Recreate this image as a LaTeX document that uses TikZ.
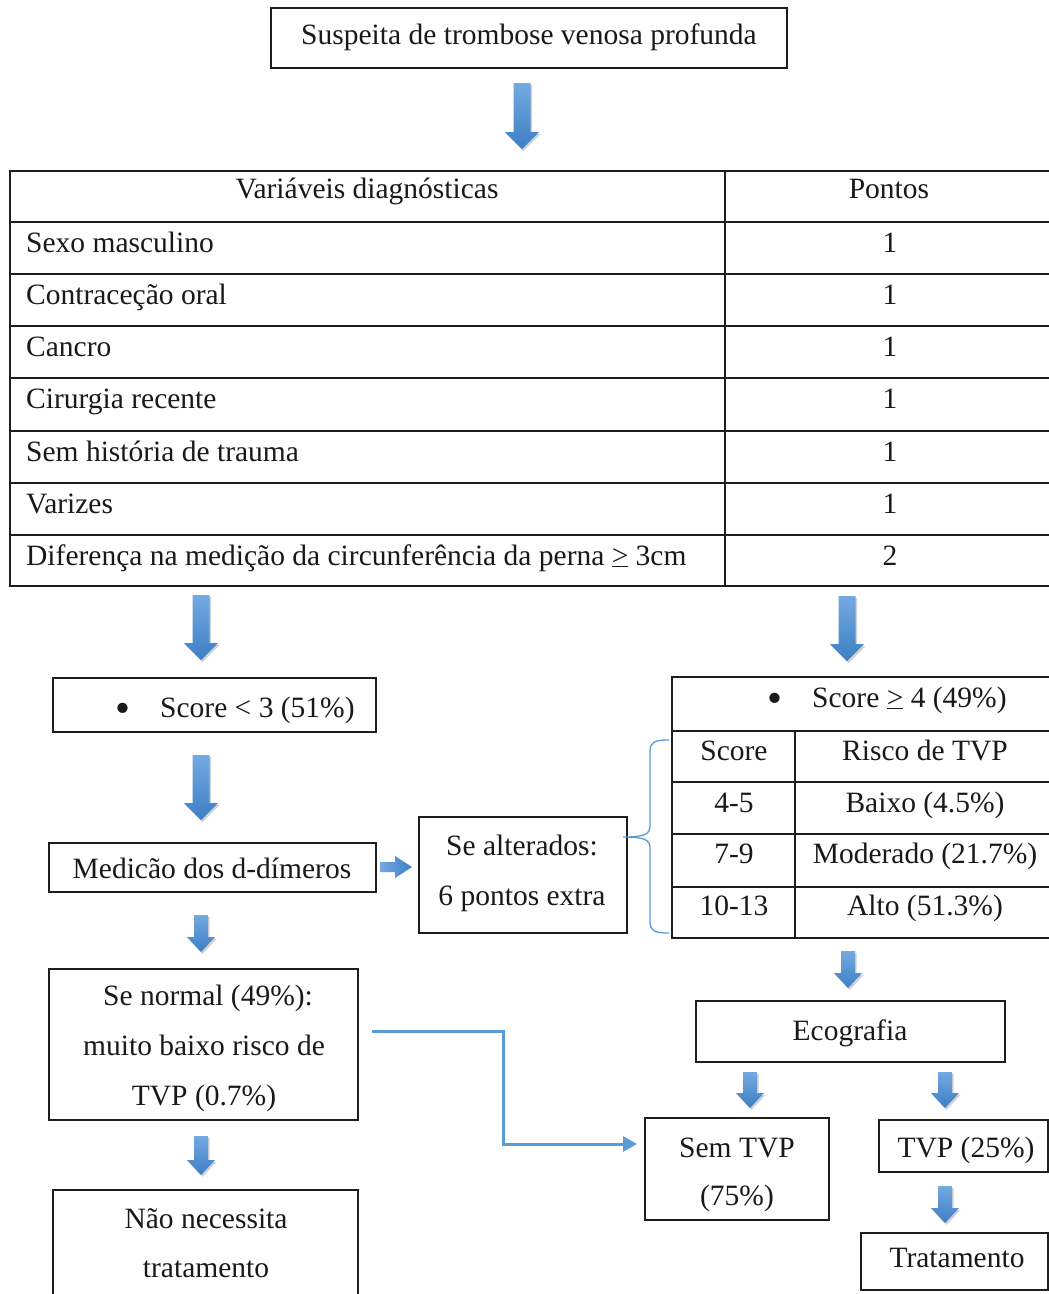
\documentclass[tikz,border=0pt]{standalone}
\usepackage{fontspec}
\setmainfont{Liberation Serif}
\usetikzlibrary{arrows.meta}
\definecolor{lnc}{HTML}{1E1E1E}
\definecolor{blt}{HTML}{74AAE0}
\definecolor{bdk}{HTML}{3D7EC5}
\definecolor{connc}{HTML}{5B9BD5}
\newcommand{\arrdown}[6]{% x, ytop, ytip, shaft, headw, headlen
  \fill[black,opacity=0.18] ({#1-#4/2+1.5},{#2+2}) -- ({#1+#4/2+1.5},{#2+2}) -- ({#1+#4/2+1.5},{#3-#6+2}) -- ({#1+#5/2+1.5},{#3-#6+2}) -- ({#1+1.5},{#3+2}) -- ({#1-#5/2+1.5},{#3-#6+2}) -- ({#1-#4/2+1.5},{#3-#6+2}) -- cycle;
  \shade[top color=blt,bottom color=bdk] ({#1-#4/2},{#2}) -- ({#1+#4/2},{#2}) -- ({#1+#4/2},{#3-#6}) -- ({#1+#5/2},{#3-#6}) -- ({#1},{#3}) -- ({#1-#5/2},{#3-#6}) -- ({#1-#4/2},{#3-#6}) -- cycle;}
\newcommand{\arrright}[6]{% xtail, xtip, y, shaft, headw, headlen
  \shade[left color=blt,right color=bdk] ({#1},{#3-#4/2}) -- ({#2-#6},{#3-#4/2}) -- ({#2-#6},{#3-#5/2}) -- ({#2},{#3}) -- ({#2-#6},{#3+#5/2}) -- ({#2-#6},{#3+#4/2}) -- ({#1},{#3+#4/2}) -- cycle;}
\newcommand{\boxnode}[5]{\node[box, anchor=north west, minimum width={(#4-#2)*1pt}, minimum height={(#5-#3)*1pt}] (#1) at (#2,#3) {};}
\newcommand{\bigbullet}{\scalebox{1.45}{•}}
\tikzset{
  box/.style={draw=lnc, line width=1.7pt, rectangle, inner sep=0pt, outer sep=0pt},
  gridl/.style={draw=lnc, line width=1.7pt},
  txt/.style={inner sep=0pt, text=black!90, font=\fontsize{29.5}{50}\selectfont},
  tc/.style={txt, anchor=base},
  tl/.style={txt, anchor=base west},
  connl/.style={draw=connc, line width=3pt, -{Triangle[length=14pt,width=15pt]}},
  bracel/.style={draw=connc, line width=1.3pt}
}
\begin{document}
\begin{tikzpicture}[x=1pt,y=-1pt]
\useasboundingbox (0,0) rectangle (1049,1294);
\clip (0,0) rectangle (1049,1294);
\fill[white] (0,0) rectangle (1049,1294);

% top box
\boxnode{top}{271}{8}{787}{68}
\node[tc] (ttop) at (529,44) {Suspeita de trombose venosa profunda};
\arrdown{522}{83}{149}{17}{34}{17}

% main table
\boxnode{tbl}{10}{171}{1053}{586}
\foreach \yy in {222,274,326,378,431,483,535} \draw[gridl] (10,\yy) -- (1053,\yy);
\draw[gridl] (725,171) -- (725,586);
\node[tc] (h1) at (367,198) {Variáveis diagnósticas};
\node[tc] (h2) at (889,198) {Pontos};
\node[tl] (r1) at (26,252) {Sexo masculino};
\node[tl] (r2) at (26,304) {Contraceção oral};
\node[tl] (r3) at (26,356) {Cancro};
\node[tl] (r4) at (26,408) {Cirurgia recente};
\node[tl] (r5) at (26,461) {Sem história de trauma};
\node[tl] (r6) at (26,513) {Varizes};
\node[tl] (r7) at (26,565) {Diferença na medição da circunferência da perna \underline{>} 3cm};
\node[tc] (p1) at (890,252) {1};
\node[tc] (p2) at (890,304) {1};
\node[tc] (p3) at (890,356) {1};
\node[tc] (p4) at (890,408) {1};
\node[tc] (p5) at (890,461) {1};
\node[tc] (p6) at (890,513) {1};
\node[tc] (p7) at (890,565) {2};

\arrdown{201}{595}{660}{17}{34}{17}
\arrdown{847}{596}{661}{17}{34}{17}

% left branch
\boxnode{sc3}{53}{678}{376}{732}
\node[tc] (bl1) at (123,722) {\bigbullet};
\node[tl] (tsc3) at (160,717) {Score < 3 (51\%)};
\arrdown{201}{755}{820}{17}{34}{17}
\boxnode{med}{49}{843}{376}{892}
\node[tc] (tmed) at (212,878) {Medicão dos d-dímeros};
\arrright{380}{412}{867}{10}{22}{17}
\boxnode{alt}{419}{817}{627}{933}
\node[tc] (talt1) at (522,855) {Se alterados:};
\node[tc] (talt2) at (522,905) {6 pontos extra};

% brace
\coordinate (brtip) at (623,837);
\draw[bracel] (669,740) .. controls (654,740) and (650,742) .. (650,752) -- (650,826) .. controls (650,834) and (645,837) .. (brtip) .. controls (645,837) and (650,840) .. (650,848) -- (650,921) .. controls (650,931) and (654,933) .. (669,933);

% right table
\boxnode{rt}{672}{677}{1056}{938}
\foreach \yy in {731,782,834,887} \draw[gridl] (672,\yy) -- (1056,\yy);
\draw[gridl] (795,731) -- (795,938);
\node[tc] (bl2) at (775,712) {\bigbullet};
\node[tl] (tsc4) at (812,707) {Score \underline{>} 4 (49\%)};
\node[tc] (rh1) at (734,760) {Score};
\node[tc] (rh2) at (925,760) {Risco de TVP};
\node[tc] (ra1) at (734,812) {4-5};
\node[tc] (ra2) at (925,812) {Baixo (4.5\%)};
\node[tc] (rb1) at (734,863) {7-9};
\node[tc] (rb2) at (925,863) {Moderado (21.7\%)};
\node[tc] (rc1) at (734,915) {10-13};
\node[tc] (rc2) at (925,915) {Alto (51.3\%)};

\arrdown{848}{951}{988}{14}{28}{15}
\boxnode{eco}{696}{1001}{1005}{1062}
\node[tc] (teco) at (850,1040) {Ecografia};
\arrdown{750}{1072}{1108}{14}{28}{15}
\arrdown{945}{1072}{1108}{14}{28}{15}
\boxnode{sem}{645}{1118}{829}{1220}
\node[tc] (tsem1) at (737,1157) {Sem TVP};
\node[tc] (tsem2) at (737,1205) {(75\%)};
\boxnode{tvp}{879}{1120}{1048}{1172}
\node[tc] (ttvp) at (966,1157) {TVP (25\%)};
\arrdown{945}{1186}{1223}{14}{28}{15}
\boxnode{trat}{861}{1233}{1048}{1290}
\node[tc] (ttrat) at (957,1267) {Tratamento};

% left lower
\arrdown{201}{915}{952}{14}{28}{15}
\boxnode{norm}{49}{969}{358}{1120}
\node[tc] (tn1) at (208,1005) {Se normal (49\%):};
\node[tc] (tn2) at (204,1055) {muito baixo risco de};
\node[tc] (tn3) at (204,1105) {TVP (0.7\%)};
\coordinate (c1) at (372,1031);
\coordinate (c2) at (637,1144);
\draw[connl] (c1) -| (503,1144) -- (c2);
\arrdown{201}{1136}{1175}{14}{28}{15}
\boxnode{nao}{53}{1190}{358}{1310}
\node[tc] (tnao1) at (206,1228) {Não necessita};
\node[tc] (tnao2) at (206,1277) {tratamento};
\end{tikzpicture}
\end{document}
